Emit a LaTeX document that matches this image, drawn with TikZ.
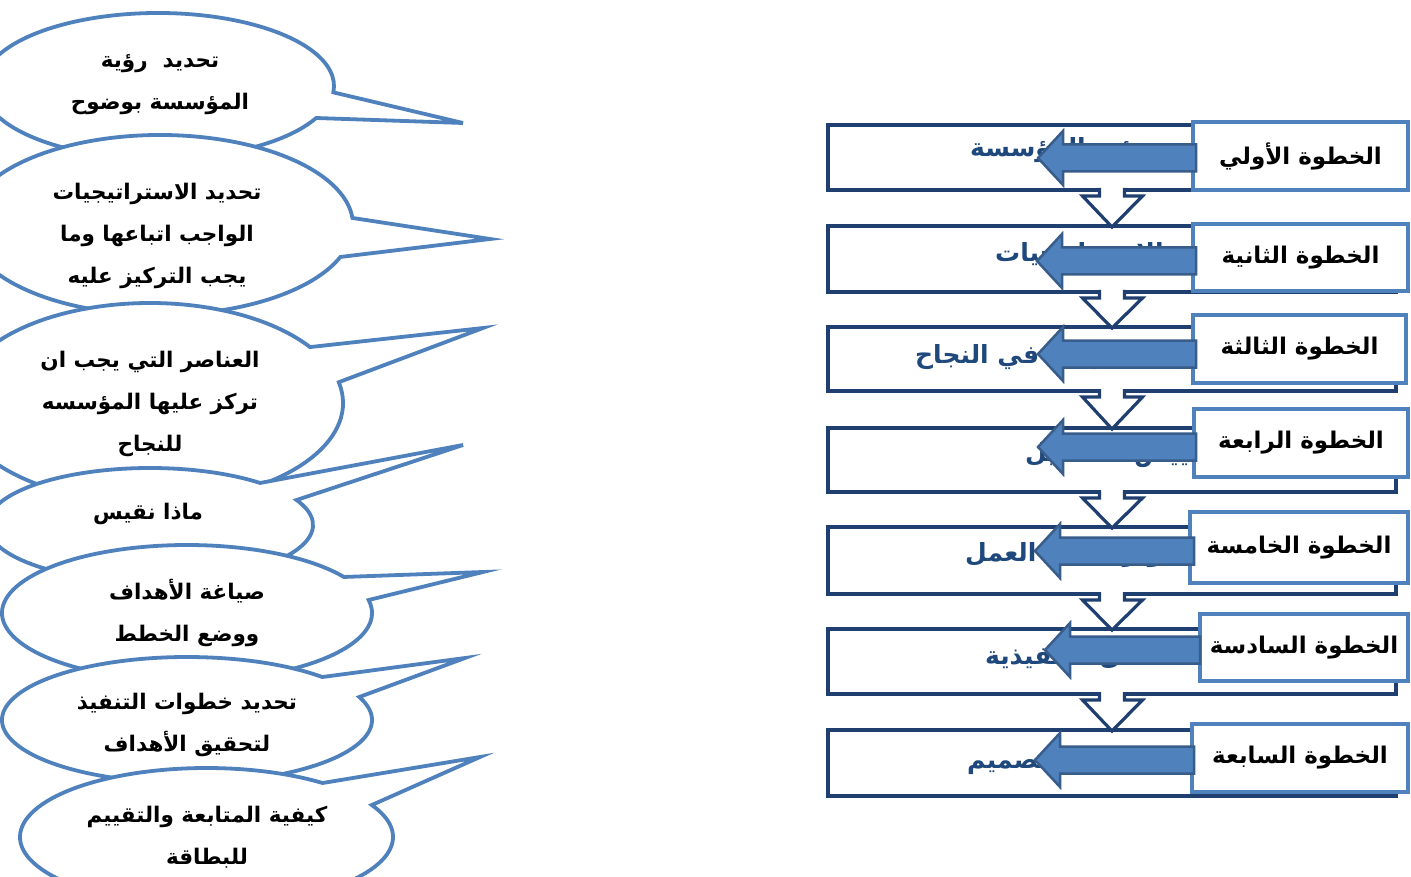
\documentclass[tikz,border=0pt]{standalone}
\usepackage{fontspec}
\usetikzlibrary{calc}
\newfontfamily\arabicfont[Script=Arabic]{DejaVu Sans}
\TeXXeTstate=1
\definecolor{bub}{HTML}{4F81BD}
\definecolor{navy}{HTML}{1F3F70}
\definecolor{hid}{HTML}{1F497D}
\definecolor{arrb}{HTML}{385D8A}
\newcommand\mybubble[8]{%
  \draw[bubble] ({#1+#3*cos(#6)},{#2+#4*sin(#6)}) arc[start angle=#6, end angle={#5+360}, x radius=#3, y radius=#4] -- (#7,#8) -- cycle;}
\newcommand\larrow[3]{% y tipx rightx
  \draw[larrowstyle] (#2,#1) -- ({#2+25},{#1-27}) -- ({#2+25},{#1-13.5}) -- (#3,{#1-13.5}) -- (#3,{#1+13.5}) -- ({#2+25},{#1+13.5}) -- ({#2+25},{#1+27}) -- cycle;}
\newcommand\darrow[2]{%
  \fill[white] ($(#1.south)+(-12.5,-4)$) -- ($(#1.south)+(-12.5,6)$) -- ($(#1.south)+(-29.5,6)$) -- ($(#2.north)+(0,1)$) -- ($(#1.south)+(30.5,6)$) -- ($(#1.south)+(12.5,6)$) -- ($(#1.south)+(12.5,-4)$) -- cycle;
  \draw[darrowstyle] ($(#1.south)+(-12.5,-2)$) -- ($(#1.south)+(-12.5,6)$) -- ($(#1.south)+(-29.5,6)$) -- ($(#2.north)+(0,1)$) -- ($(#1.south)+(30.5,6)$) -- ($(#1.south)+(12.5,6)$) -- ($(#1.south)+(12.5,-2)$);}
\begin{document}
\begin{tikzpicture}[x=1pt,y=-1pt,
  bubble/.style={draw=bub, line width=3.8pt, fill=white, line join=miter},
  btext/.style={font=\arabicfont\bfseries\fontsize{21.5}{42}\selectfont, align=center, text=black, inner sep=0pt},
  rowbox/.style={draw=navy, line width=4pt, fill=white, inner sep=0pt, outer sep=0pt},
  stepbox/.style={draw=bub, line width=4pt, fill=white, inner sep=0pt, font=\arabicfont\bfseries\fontsize{23}{26}\selectfont},
  htext/.style={font=\arabicfont\bfseries\fontsize{25}{28}\selectfont, text=hid, anchor=west, inner sep=0pt},
  larrowstyle/.style={fill=bub, draw=arrb, line width=2.5pt, line join=miter},
  darrowstyle/.style={draw=navy, line width=3.2pt, line join=miter}]
\useasboundingbox (0,0) rectangle (1411,877);
\clip (0,0) rectangle (1411,877);
\fill[white] (0,0) rectangle (1411,877);

% speech bubbles
\mybubble{158}{86}{176}{73}{5}{26}{463}{123}
\node[btext] (b1) at (160,85) {\beginR تحديد~ رؤية\endR\\\beginR المؤسسة بوضوح\endR};
\mybubble{160}{225}{193}{90}{-4.5}{20.8}{490}{239}
\node[btext] (b2) at (157,236) {\beginR تحديد الاستراتيجيات\endR\\\beginR الواجب اتباعها وما\endR\\\beginR يجب التركيز عليه\endR};
\mybubble{150}{403}{193}{100}{-34}{-12}{483}{328}
\node[btext] (b3) at (150,404) {\beginR العناصر التي يجب ان\endR\\\beginR تركز عليها المؤسسه\endR\\\beginR للنجاح\endR};
\mybubble{150}{525}{163}{57}{-47.5}{-26}{463}{445}
\node[btext] (b4) at (148,514) {\beginR ماذا نقيس\endR};
\mybubble{187}{613}{185}{68}{-32}{-11}{483}{572}
\node[btext] (b5) at (187,613) {\beginR صياغة الأهداف\endR\\\beginR ووضع الخطط\endR};
\mybubble{187}{720}{185}{63}{-43}{-21.4}{465}{658}
\node[btext] (b6) at (187,725) {\beginR تحديد خطوات التنفيذ\endR\\\beginR لتحقيق الأهداف\endR};
\mybubble{206.5}{837}{186.5}{69}{-51.5}{-27.6}{480}{757}
\node[btext] (b7) at (207,837) {\beginR كيفية المتابعة والتقييم\endR\\\beginR للبطاقة\endR};

% row rectangles
\node[rowbox, minimum width=568pt, minimum height=65pt] (r1) at (1112,157.5) {};
\node[rowbox, minimum width=568pt, minimum height=66pt] (r2) at (1112,259) {};
\node[rowbox, minimum width=568pt, minimum height=64pt] (r3) at (1112,359) {};
\node[rowbox, minimum width=568pt, minimum height=64pt] (r4) at (1112,460) {};
\node[rowbox, minimum width=568pt, minimum height=67pt] (r5) at (1112,560.5) {};
\node[rowbox, minimum width=568pt, minimum height=65pt] (r6) at (1112,661.5) {};
\node[rowbox, minimum width=568pt, minimum height=66pt] (r7) at (1112,763) {};

% hidden texts
\node[htext] (h1) at (970,150) {\beginR رؤية المؤسسة\endR};
\node[htext] (h2) at (995,255) {\beginR الاستراتيجيات\endR};
\node[htext] (h3) at (915,357) {\beginR العوامل في النجاح\endR};
\node[htext] (h4) at (1025,455) {\beginR مقاييس التشغيل\endR};
\node[htext] (h5) at (965,555) {\beginR تطوير خطط العمل\endR};
\node[htext] (h6) at (985,655) {\beginR الأعمال التنفيذية\endR};
\node[htext] (h7) at (967,762) {\beginR إعادة التصميم\endR};

% down arrows
\darrow{r1}{r2}
\darrow{r2}{r3}
\darrow{r3}{r4}
\darrow{r4}{r5}
\darrow{r5}{r6}
\darrow{r6}{r7}

% step boxes
\node[stepbox, minimum width=215pt, minimum height=68pt] (s1) at (1300.5,156) {\beginR الخطوة الأولي\endR};
\node[stepbox, minimum width=215pt, minimum height=67pt] (s2) at (1300.5,257.5) {\beginR الخطوة الثانية\endR};
\node[stepbox, minimum width=213pt, minimum height=68pt] (s3) at (1299.5,349) {\beginR الخطوة الثالثة\endR};
\node[stepbox, minimum width=214pt, minimum height=68pt] (s4) at (1301,443) {\beginR الخطوة الرابعة\endR};
\node[stepbox, minimum width=218pt, minimum height=71pt] (s5) at (1299,547.5) {\beginR الخطوة الخامسة\endR};
\node[stepbox, minimum width=208pt, minimum height=67pt] (s6) at (1304,647.5) {\beginR الخطوة السادسة\endR};
\node[stepbox, minimum width=216pt, minimum height=68pt] (s7) at (1300,758) {\beginR الخطوة السابعة\endR};

% left block arrows
\larrow{158}{1038}{1196}
\larrow{261}{1037}{1196}
\larrow{354}{1038}{1196}
\larrow{447}{1038}{1196}
\larrow{551}{1035}{1194}
\larrow{650}{1045}{1200}
\larrow{760}{1035}{1194}
\end{tikzpicture}
\end{document}
